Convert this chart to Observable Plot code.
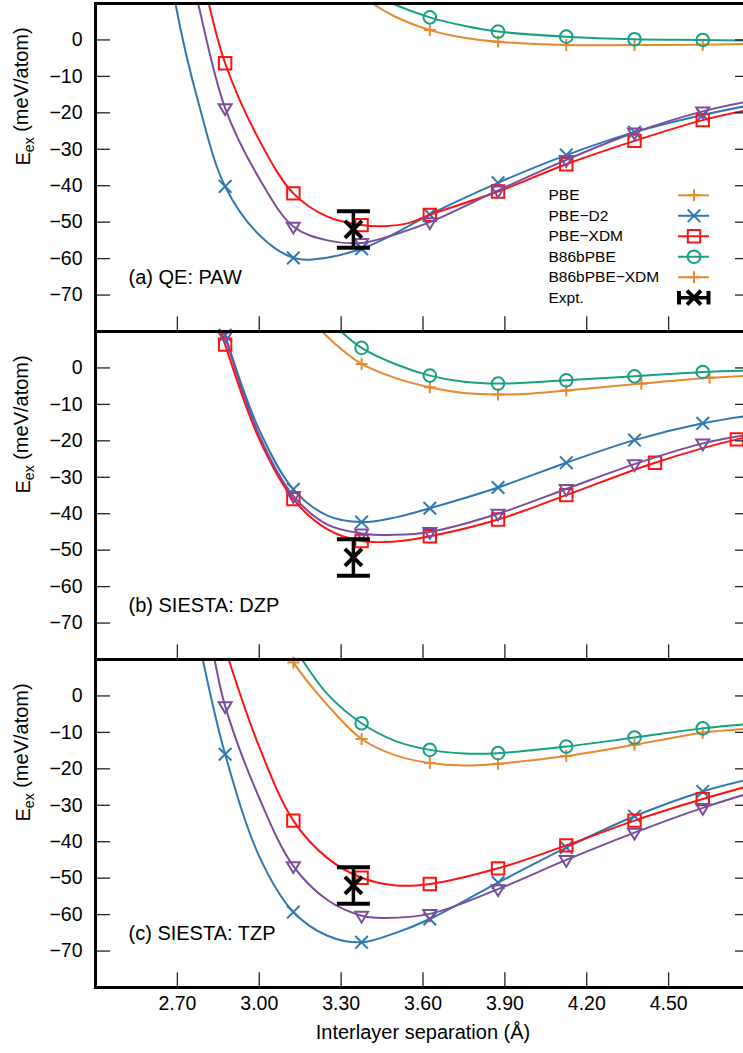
<!DOCTYPE html>
<html>
<head>
<meta charset="utf-8">
<script src="https://cdn.jsdelivr.net/npm/d3@7"></script>
<script src="https://cdn.jsdelivr.net/npm/@observablehq/plot@0.6"></script>
<style>
html, body { margin: 0; padding: 0; background: #fff; overflow: hidden; }
#chart { width: 760px; }
</style>
</head>
<body>
<div id="chart"></div>
<script>
// ---------------- DATA ----------------
const panels = ["a", "b", "c"];
const panelLabels = ["(a) QE: PAW", "(b) SIESTA: DZP", "(c) SIESTA: TZP"];
const methods = ["PBE", "PBE\u2212D2", "PBE\u2212XDM", "B86bPBE", "B86bPBE\u2212XDM"];
const legendLabels = ["PBE", "PBE\u2212D2", "PBE\u2212XDM", "B86bPBE", "B86bPBE\u2212XDM", "Expt."];
const xTicks = [2.70, 3.00, 3.30, 3.60, 3.90, 4.20, 4.50];
const yTicks = [0, -10, -20, -30, -40, -50, -60, -70];
const xLabel = "Interlayer separation (\u00C5)";
const yLabel = "Eex (meV/atom)";

// experiment: separation, energy, error
const exptX = [3.345];
const exptY = [-52];
const exptErr = [5];

// each point: [separation (Å), energy (meV/atom), marker shown (1/0)]
// (a) QE: PAW
const a_PBE = [[3.35,14,0],[3.415,10,0],[3.5,6.3,0],[3.625,2.7,1],[3.75,0.6,0],[3.875,-0.5,1],[4.125,-1.4,1],[4.375,-1.4,1],[4.625,-1.3,1],[4.8,-1.1,0]];
const a_D2 = [[2.66,28,0],[2.693,10,0],[2.78,-18,0],[2.875,-40.2,1],[3.0,-53.5,0],[3.125,-59.8,1],[3.2,-60.2,0],[3.375,-57.3,1],[3.5,-53,0],[3.625,-47.9,1],[3.875,-39.2,1],[4.125,-31.6,1],[4.375,-25.3,1],[4.625,-20.6,1],[4.8,-17.9,0]];
const a_XDM = [[2.78,22,0],[2.815,10,0],[2.875,-6.4,1],[3.0,-27.5,0],[3.125,-42.1,1],[3.25,-48.5,0],[3.375,-50.8,1],[3.46,-51.1,0],[3.55,-50.2,0],[3.625,-48,1],[3.875,-41.6,1],[4.125,-34.1,1],[4.375,-27.7,1],[4.625,-22,1],[4.8,-19.1,0]];
const a_B86b = [[3.40,13.2,0],[3.487,10,0],[3.625,6.2,1],[3.75,3.9,0],[3.875,2.3,1],[4.125,0.9,1],[4.375,0.2,1],[4.625,0,1],[4.8,-0.2,0]];
const a_B86bXDM = [[2.745,20,0],[2.776,10,0],[2.875,-18.7,1],[3.0,-38,0],[3.125,-51.2,1],[3.25,-55,0],[3.375,-55.7,1],[3.5,-53.3,0],[3.625,-50,1],[3.875,-41.3,1],[4.125,-32.9,1],[4.375,-25.4,1],[4.625,-19.6,1],[4.8,-16.8,0]];

// (b) SIESTA: DZP
const b_PBE = [[3.17,15,0],[3.23,10,0],[3.3,5.2,0],[3.375,1.1,1],[3.5,-2.8,0],[3.625,-5.3,1],[3.75,-6.9,0],[3.875,-7.3,1],[4.0,-7.0,0],[4.125,-6.2,1],[4.4,-4.3,1],[4.65,-2.7,1],[4.8,-2.1,0]];
const b_D2 = [[2.835,20,0],[2.875,9,1],[3.0,-17,0],[3.125,-33.3,1],[3.25,-40.5,0],[3.375,-42.3,1],[3.5,-41,0],[3.625,-38.5,1],[3.875,-32.8,1],[4.125,-26,1],[4.375,-19.8,1],[4.625,-15.2,1],[4.8,-13,0]];
const b_XDM = [[2.82,20,0],[2.875,6.4,1],[3.0,-19.5,0],[3.125,-36,1],[3.25,-44.3,0],[3.375,-47.5,1],[3.5,-47.6,0],[3.625,-46.2,1],[3.875,-41.6,1],[4.125,-34.9,1],[4.45,-26,1],[4.75,-19.6,1],[4.8,-18.9,0]];
const b_B86b = [[3.25,14,0],[3.30,10,0],[3.375,5.5,1],[3.5,1.0,0],[3.625,-2.1,1],[3.75,-3.8,0],[3.875,-4.3,1],[4.125,-3.4,1],[4.375,-2.3,1],[4.625,-1.1,1],[4.8,-0.7,0]];
const b_B86bXDM = [[2.835,20,0],[2.875,8.7,1],[3.0,-18.5,0],[3.125,-35.1,1],[3.25,-43,0],[3.375,-45.4,1],[3.5,-45.8,0],[3.625,-45,1],[3.875,-40,1],[4.125,-33.2,1],[4.375,-26.4,1],[4.625,-20.7,1],[4.8,-18.2,0]];

// (c) SIESTA: TZP
const c_PBE = [[3.095,13.3,0],[3.125,9.2,1],[3.25,-2.5,0],[3.375,-11.8,1],[3.5,-16.3,0],[3.625,-18.4,1],[3.75,-19.1,0],[3.875,-18.6,1],[4.125,-16.5,1],[4.375,-13.4,1],[4.625,-10.1,1],[4.8,-8.9,0]];
const c_D2 = [[2.77,19,0],[2.793,10,0],[2.875,-16,1],[3.0,-44,0],[3.125,-59.3,1],[3.25,-65.8,0],[3.375,-67.6,1],[3.5,-65,0],[3.625,-61.2,1],[3.875,-51.2,1],[4.125,-41.6,1],[4.375,-33,1],[4.625,-26.2,1],[4.8,-22.8,0]];
const c_XDM = [[2.86,17,0],[2.888,10,0],[3.0,-14,0],[3.125,-34.2,1],[3.25,-44.5,0],[3.375,-49.9,1],[3.5,-52,0],[3.625,-51.6,1],[3.875,-47.3,1],[4.125,-41,1],[4.375,-34.2,1],[4.625,-28.3,1],[4.8,-24.6,0]];
const c_B86b = [[3.13,13.5,0],[3.157,10,0],[3.25,0.5,0],[3.375,-7.5,1],[3.5,-12.4,0],[3.625,-14.8,1],[3.75,-15.8,0],[3.875,-15.7,1],[4.125,-13.9,1],[4.375,-11.4,1],[4.625,-8.9,1],[4.8,-7.7,0]];
const c_B86bXDM = [[2.815,17.5,0],[2.836,10,0],[2.875,-2.8,1],[3.0,-28,0],[3.125,-46.7,1],[3.25,-56,0],[3.375,-60.3,1],[3.45,-60.9,0],[3.625,-59.8,1],[3.875,-53,1],[4.125,-45,1],[4.375,-37.5,1],[4.625,-30.7,1],[4.8,-26.6,0]];

const seriesByPanel = {
  a: [a_PBE, a_D2, a_XDM, a_B86b, a_B86bXDM],
  b: [b_PBE, b_D2, b_XDM, b_B86b, b_B86bXDM],
  c: [c_PBE, c_D2, c_XDM, c_B86b, c_B86bXDM]
};

// ---------------- SYMBOLS ----------------
const half = s => Math.sqrt(s / Math.PI);
const plusSym = {draw(c, s) { const r = half(s); c.moveTo(-r, 0); c.lineTo(r, 0); c.moveTo(0, -r); c.lineTo(0, r); }};
const timesSym = {draw(c, s) { const r = half(s); c.moveTo(-r, -r); c.lineTo(r, r); c.moveTo(-r, r); c.lineTo(r, -r); }};
const squareSym = {draw(c, s) { const r = half(s); c.moveTo(-r, -r); c.lineTo(r, -r); c.lineTo(r, r); c.lineTo(-r, r); c.closePath(); }};
const circleSym = {draw(c, s) { const r = half(s); c.moveTo(r, 0); c.arc(0, 0, r, 0, 2 * Math.PI); c.closePath(); }};
const triDownSym = {draw(c, s) { const r = half(s); c.moveTo(-r, -0.6 * r); c.lineTo(r, -0.6 * r); c.lineTo(0, 1.07 * r); c.closePath(); }};
const hCapSym = {draw(c, s) { const r = half(s); c.moveTo(-r, 0); c.lineTo(r, 0); }};
const vCapSym = {draw(c, s) { const r = half(s); c.moveTo(0, -r); c.lineTo(0, r); }};

const ORANGE = "#e8892e", BLUE = "#2f78b1", RED = "#ff1212", GREEN = "#17a081", PURPLE = "#7a4e9b";
const styles = [
  {color: ORANGE, symbol: plusSym, r: 6},
  {color: BLUE, symbol: timesSym, r: 6.3},
  {color: RED, symbol: squareSym, r: 6.2},
  {color: GREEN, symbol: circleSym, r: 6.3},
  {color: PURPLE, symbol: triDownSym, r: 6.5}
];
// legend as drawn in the original (last entry shown with orange +)
const legendStyles = [styles[0], styles[1], styles[2], styles[3], {color: ORANGE, symbol: plusSym, r: 6}];

// ---------------- LAYOUT ----------------
const W = 760, H = 1053, mt = 2, mb = 66, ml = 95, mr = 10;
const plotW = W - ml - mr;
const panelH = (H - mt - mb) / 3;
const pxPerX = plotW / 2.4;
const pxPerY = panelH / 90;
const xFromPx = px => 2.4 + (px - ml) / pxPerX;
const yFromRel = rel => 10 - rel / pxPerY;

// ---------------- ROWS ----------------
const rows = [];
panels.forEach(p => {
  seriesByPanel[p].forEach((arr, k) => {
    arr.forEach(([x, y, m]) => rows.push({panel: p, method: methods[k], k, x, y, mark: m}));
  });
});

const marks = [];
// curves + markers
methods.forEach((m, k) => {
  const st = styles[k];
  marks.push(Plot.line(rows.filter(d => d.k === k), {
    x: "x", y: "y", fy: "panel", curve: "catmull-rom",
    stroke: st.color, strokeWidth: 2, clip: true
  }));
  marks.push(Plot.dot(rows.filter(d => d.k === k && d.mark), {
    x: "x", y: "y", fy: "panel", symbol: st.symbol, r: st.r,
    stroke: st.color, strokeWidth: 2, fill: "none"
  }));
});

// experiment (all panels)
const expt = exptX.map((x, i) => ({x, y: exptY[i], err: exptErr[i]}));
marks.push(Plot.ruleX(expt, {x: "x", y1: d => d.y - d.err, y2: d => d.y + d.err, stroke: "black", strokeWidth: 3.5}));
marks.push(Plot.dot(expt.flatMap(d => [{x: d.x, y: d.y - d.err}, {x: d.x, y: d.y + d.err}]), {
  x: "x", y: "y", symbol: hCapSym, r: 16.5, stroke: "black", strokeWidth: 4, fill: "none"
}));
marks.push(Plot.dot(expt, {x: "x", y: "y", symbol: timesSym, r: 8.5, stroke: "black", strokeWidth: 4, fill: "none"}));

// legend (panel a)
const legX = xFromPx(548), legL1 = xFromPx(678), legL2 = xFromPx(709), legM = xFromPx(693.5);
const legY = i => yFromRel(192 + i * 20.5);
marks.push(Plot.text(legendLabels, {
  x: () => legX, y: (d, i) => legY(i), fy: () => "a", text: d => d,
  textAnchor: "start", fontSize: 15.5, fill: "black"
}));
legendStyles.forEach((st, i) => {
  marks.push(Plot.ruleY([legY(i)], {y: d => d, x1: legL1, x2: legL2, fy: () => "a", stroke: st.color, strokeWidth: 2}));
  marks.push(Plot.dot([legY(i)], {x: () => legM, y: d => d, fy: () => "a", symbol: st.symbol, r: st.r, stroke: st.color, strokeWidth: 2, fill: "none"}));
});
{
  const i = 5, yE = legY(i);
  marks.push(Plot.ruleY([yE], {y: d => d, x1: xFromPx(677.5), x2: xFromPx(709), fy: () => "a", stroke: "black", strokeWidth: 3.5}));
  marks.push(Plot.dot([xFromPx(678.5), xFromPx(708)], {x: d => d, y: () => yE, fy: () => "a", symbol: vCapSym, r: 6.8, stroke: "black", strokeWidth: 4, fill: "none"}));
  marks.push(Plot.dot([legM], {x: d => d, y: () => yE, fy: () => "a", symbol: timesSym, r: 7, stroke: "black", strokeWidth: 3.8, fill: "none"}));
}

// panel labels
marks.push(Plot.text(panels, {
  fy: d => d, text: (d, i) => panelLabels[i], frameAnchor: "bottom-left",
  dx: 33, dy: -47.5, textAnchor: "start", fontSize: 20, fill: "black"
}));

// ticks (inward)
const tickStyle = {stroke: "#222", strokeWidth: 1.3};
marks.push(Plot.tickX(xTicks, {x: d => d, insetTop: panelH - 15, ...tickStyle}));
marks.push(Plot.tickY(yTicks, {y: d => d, insetRight: plotW - 15, ...tickStyle}));
marks.push(Plot.tickY(yTicks, {y: d => d, insetLeft: plotW - 15, ...tickStyle}));

// y tick labels (every panel)
const fmtY = d3.format("d");
marks.push(Plot.text(yTicks, {y: d => d, frameAnchor: "left", dx: -13, textAnchor: "end", text: d => fmtY(d), fontSize: 19.5, fill: "black"}));
// y titles
marks.push(Plot.text([yLabel], {frameAnchor: "left", dx: -72, dy: -2, rotate: -90, text: d => d, fontSize: 20, fill: "black"}));
// x tick labels & title (bottom panel)
const fmtX = d3.format(".2f");
marks.push(Plot.text(xTicks, {x: d => d, fy: () => "c", frameAnchor: "bottom", dy: 22, text: d => fmtX(d), fontSize: 19.5, fill: "black"}));
marks.push(Plot.text([xLabel], {fy: () => "c", frameAnchor: "bottom", dy: 51, text: d => d, fontSize: 20, fill: "black"}));

// frame on top
marks.push(Plot.frame({stroke: "black", strokeWidth: 3}));

const chart = Plot.plot({
  width: W, height: H,
  marginLeft: ml, marginRight: mr, marginTop: mt, marginBottom: mb,
  x: {domain: [2.4, 4.8], axis: null},
  y: {domain: [-80, 10], axis: null},
  fy: {domain: panels, axis: null, padding: 0},
  style: {fontFamily: "'Liberation Sans', Arial, Helvetica, sans-serif", background: "white", maxWidth: "none", overflow: "visible"},
  marks
});

// subscript for E_ex
const NS = "http://www.w3.org/2000/svg";
chart.querySelectorAll("text").forEach(t => {
  if (t.textContent === yLabel) {
    t.textContent = "";
    t.appendChild(document.createTextNode("E"));
    const s = document.createElementNS(NS, "tspan");
    s.setAttribute("dy", "0.3em"); s.setAttribute("font-size", "14");
    s.textContent = "ex";
    t.appendChild(s);
    const r = document.createElementNS(NS, "tspan");
    r.setAttribute("dy", "-0.3em");
    r.textContent = " (meV/atom)";
    t.appendChild(r);
  }
});
document.getElementById("chart").appendChild(chart);
</script>
</body>
</html>
